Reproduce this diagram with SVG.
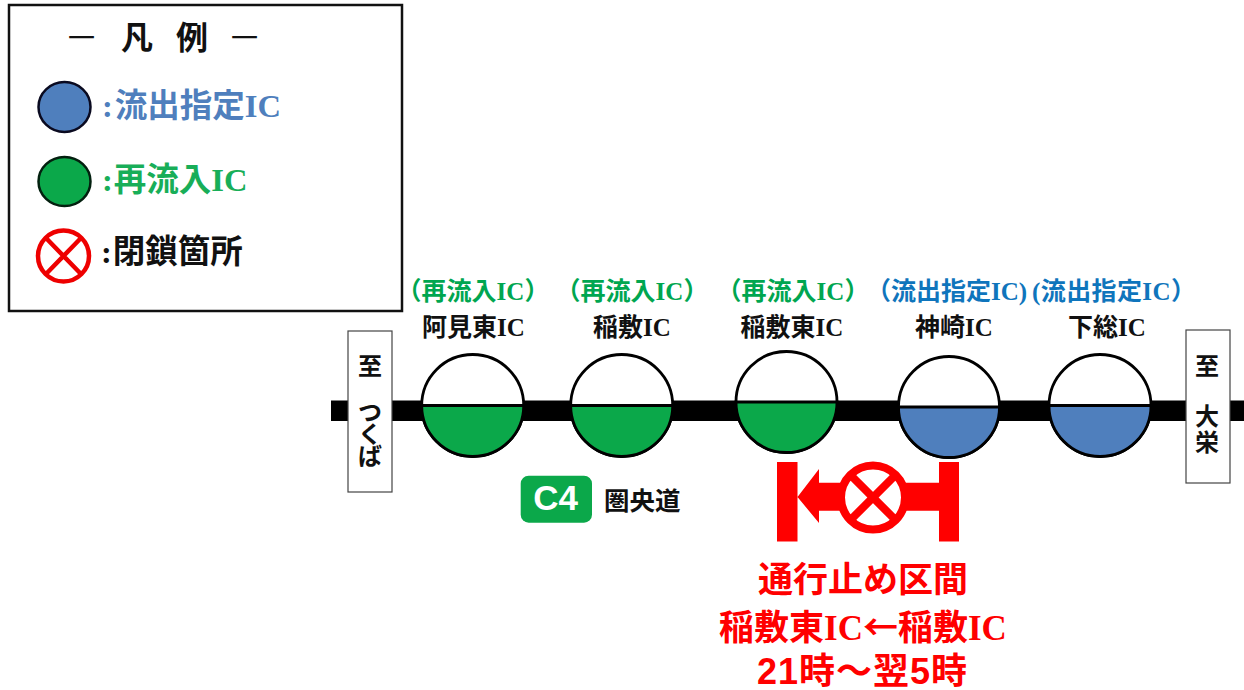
<svg xmlns="http://www.w3.org/2000/svg" width="1244" height="690" viewBox="0 0 1244 690">
<style>
text{font-family:"Liberation Serif","Noto Sans CJK JP",sans-serif;font-weight:700}
.lab{font-size:25px;text-anchor:middle;fill:#111}
.g{fill:#00A650}
.b{fill:#0F75BC}
.leg{font-size:32.5px}
.red{font-size:35px;fill:#f00;text-anchor:middle}
.dir{font-size:24px;text-anchor:middle;fill:#111;font-family:"Noto Sans CJK JP",sans-serif}
.cjk{font-family:"Noto Sans CJK JP",sans-serif}
.sans{font-family:"Liberation Sans",sans-serif}
.ring{fill:#fff;stroke:#000;stroke-width:2.8}
.half{stroke:#000;stroke-width:2.8}
.sign{fill:#fff;stroke:#444;stroke-width:1.2}
</style>
<rect width="1244" height="690" fill="#fff"/>
<g id="connectors"><rect x="331" y="400.5" width="913" height="20.5" fill="#000"/></g>
<g id="legend">
<rect x="9" y="5" width="393" height="306" fill="#fff" stroke="#111" stroke-width="2.5"/>
<text x="68" y="48" fill="#111" font-size="27" class="cjk" style="font-weight:400">一</text>
<text x="121" y="49" fill="#111" font-size="32" class="cjk">凡</text>
<text x="176" y="49" fill="#111" font-size="32" class="cjk">例</text>
<text x="231" y="48" fill="#111" font-size="27" class="cjk" style="font-weight:400">一</text>
<ellipse cx="64.5" cy="107" rx="26" ry="25" fill="#4F7FBD" stroke="#0a0a20" stroke-width="2.5"/>
<text class="leg" x="102" y="117" fill="#4F7FBD">:<tspan dx="2">流出指定IC</tspan></text>
<ellipse cx="64.5" cy="181.5" rx="26" ry="24.5" fill="#0BA84A" stroke="#03200f" stroke-width="2.5"/>
<text class="leg" x="102" y="190.5" fill="#18AE58">:<tspan dx="1">再流入IC</tspan></text>
<g fill="none" stroke="#ee0000" stroke-width="4.5"><circle cx="63.5" cy="256" r="25.5"/><path d="M46 238L81 274M81 238L46 274"/></g>
<text class="leg" x="101" y="263" fill="#111">:<tspan dx="1">閉鎖箇所</tspan></text>
</g>
<g id="sign-tsukuba"><rect class="sign" x="348" y="331" width="44" height="161"/><text class="dir" x="370 370 370 370" y="375 421 443 465">至つくば</text></g>
<g id="sign-sakae"><rect class="sign" x="1186" y="330" width="44" height="153"/><text class="dir" x="1207 1207 1207" y="375 425 451">至大栄</text></g>
<g id="ic-ami">
<text class="lab g" x="473" y="300">（再流入IC）</text><text class="lab" x="473.5" y="336">阿見東IC</text>
<circle class="ring" cx="472.7" cy="405.5" r="51"/><path class="half" fill="#0BA84A" d="M421.7 405.5H523.7A51 51 0 0 1 421.7 405.5Z"/>
</g>
<g id="ic-inashiki">
<text class="lab g" x="632" y="300">（再流入IC）</text><text class="lab" x="632" y="336">稲敷IC</text>
<circle class="ring" cx="621.7" cy="405.5" r="51"/><path class="half" fill="#0BA84A" d="M570.7 405.5H672.7A51 51 0 0 1 570.7 405.5Z"/>
</g>
<g id="ic-inashiki-higashi">
<text class="lab g" x="793" y="300">（再流入IC）</text><text class="lab" x="792" y="336">稲敷東IC</text>
<circle class="ring" cx="786.5" cy="402" r="50.5"/><path class="half" fill="#0BA84A" d="M736 402H837A50.5 50.5 0 0 1 736 402Z"/>
</g>
<g id="ic-kozaki">
<text class="lab b" x="866" y="300" style="text-anchor:start">（流出指定IC)</text><text class="lab" x="954" y="336">神崎IC</text>
<circle class="ring" cx="949" cy="407" r="50.5"/><path class="half" fill="#4F7FBD" d="M898.5 407H999.5A50.5 50.5 0 0 1 898.5 407Z"/>
</g>
<g id="ic-shimofusa">
<text class="lab b" x="1032" y="300" style="text-anchor:start;letter-spacing:.4px">(流出指定IC）</text><text class="lab" x="1107" y="336">下総IC</text>
<circle class="ring" cx="1100" cy="405.5" r="51"/><path class="half" fill="#4F7FBD" d="M1049 405.5H1151A51 51 0 0 1 1049 405.5Z"/>
</g>
<g id="route-c4">
<rect x="520.7" y="475.7" width="71.3" height="47" rx="8" fill="#0BA84A"/>
<text x="555.5" y="510" text-anchor="middle" fill="#fff" font-size="35" class="sans">C4</text>
<text x="604" y="510" font-size="25.5" fill="#111" class="cjk">圏央道</text>
</g>
<g id="closure">
<path fill="#f00" d="M777 462H797.5V541.5H777ZM939 462H959V541.5H939ZM797.5 497L819 469V482.7H939V510.7H819V523Z"/>
<circle cx="873" cy="497.5" r="32" fill="#fff" stroke="#f00" stroke-width="8"/>
<path d="M850 474.5L896 520.5M896 474.5L850 520.5" stroke="#f00" stroke-width="8"/>
<text class="red" x="863" y="592">通行止め区間</text>
<text class="red" x="863" y="640">稲敷東IC<tspan class="cjk">←</tspan>稲敷IC</text>
<text class="red" x="862.5" y="684" style="font-size:36px;letter-spacing:1px"><tspan class="sans">21</tspan>時～翌<tspan class="sans">5</tspan>時</text>
</g>
</svg>
